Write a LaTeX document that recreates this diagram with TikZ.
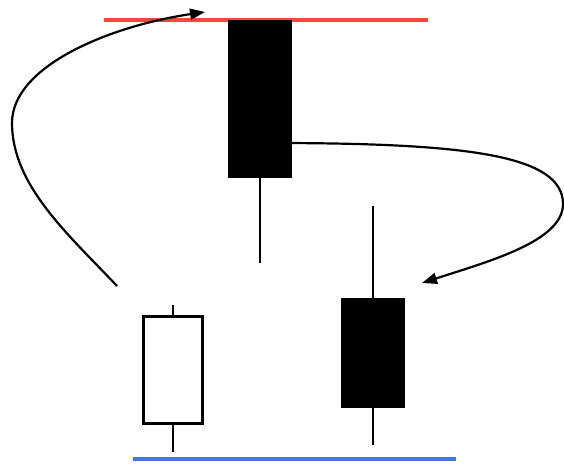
\documentclass[tikz,border=0pt]{standalone}
\usetikzlibrary{positioning}
\usetikzlibrary{arrows.meta}
\definecolor{highred}{RGB}{250,70,60}
\definecolor{lowblue}{RGB}{70,115,235}
\begin{document}
\begin{tikzpicture}[x=1pt,y=1pt,
    candle/.style={draw=black,line width=3pt,inner sep=0pt,minimum width=61pt},
    bear/.style={candle,fill=black},
    bull/.style={candle,fill=white},
    wick/.style={line width=2.2pt},
    swing/.style={line width=2.2pt,-{Triangle[length=15pt,width=11pt]}}]
  \useasboundingbox (0,0) rectangle (564,466);
  % levels
  \draw[highred,line width=3.5pt] (104,446) -- (428,446);
  \draw[lowblue,line width=3.5pt] (133,7) -- (456,7);
  % candles
  \node[bull,minimum width=59pt,minimum height=107pt] (first) at (173,96) {};
  \node[bear,minimum height=155pt] (peak) at (260,367) {};
  \node[bear,minimum height=107pt] (third) at (373,113) {};
  \coordinate (firsthi) at (173,161);
  \coordinate (firstlo) at (173,14);
  \coordinate (peaklo) at (260,203);
  \coordinate (thirdhi) at (373,260);
  \coordinate (thirdlo) at (373,21);
  \draw[wick] (first.north) -- (firsthi);
  \draw[wick] (first.south) -- (firstlo);
  \draw[wick] (peak.south) -- (peaklo);
  \draw[wick] (third.north) -- (thirdhi);
  \draw[wick] (third.south) -- (thirdlo);
  % moves
  \coordinate (upfoot) at (117,180);
  \coordinate (upbend) at (12,343);
  \coordinate (uptip) at (205,454);
  \coordinate (downbend) at (563,262);
  \coordinate (downtip) at (422,183);
  \draw[swing] (upfoot) .. controls (70,230) and (12,280) .. (upbend)
    .. controls (12,400) and (110,440) .. (uptip);
  \draw[swing] (peak.-54) .. controls (470,322) and (563,310) .. (downbend)
    .. controls (563,225) and (490,205) .. (downtip);
\end{tikzpicture}
\end{document}
